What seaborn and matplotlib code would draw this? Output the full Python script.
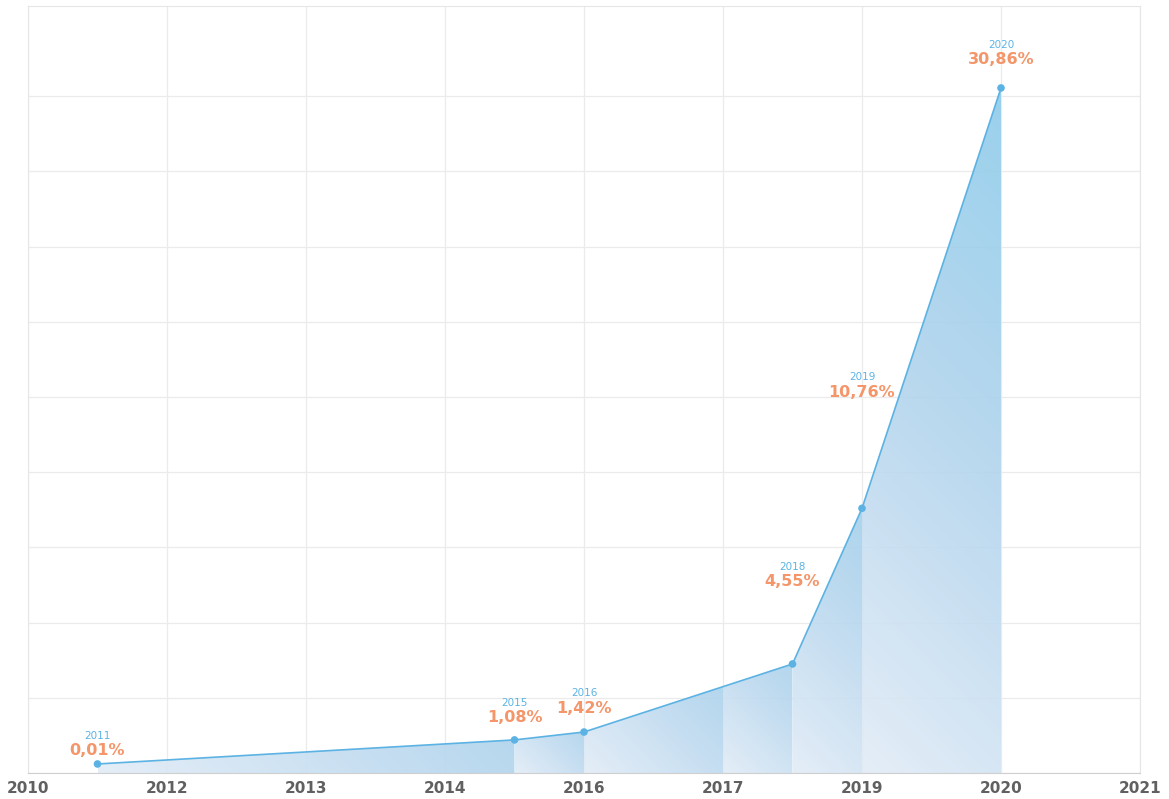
import numpy as np
import matplotlib.pyplot as plt
import seaborn as sns
from matplotlib.colors import LinearSegmentedColormap
from matplotlib.patches import Polygon

# data
years = ['2011', '2015', '2016', '2018', '2019', '2020']
share_labels = ['0,01%', '1,08%', '1,42%', '4,55%', '10,76%', '30,86%']
x_pos = [0.5, 3.5, 4.0, 5.5, 6.0, 7.0]
heights = [0.12, 0.44, 0.545, 1.45, 3.52, 9.11]
tick_labels = ['2010', '2012', '2013', '2014', '2016', '2017', '2019', '2020', '2021']
label_offsets = [13, 22, 24, 82, 116, 28]  # px above the point

sns.set_style('white')
plt.rcParams['font.family'] = ['DejaVu Sans']

fig = plt.figure(figsize=(11.69, 7.99), dpi=100)
ax = fig.add_axes([28 / 1169, 26 / 799, 1112 / 1169, 767 / 799])

# gradient filled segments under the line (gradient runs diagonally in pixel space)
px_x, px_y = 139.0, 75.2
bounds = [0.5, 3.5, 4.0, 5.0, 5.5, 6.0, 7.0]
cmap = LinearSegmentedColormap.from_list('fill', ['#e2ecf6', '#b4d5ee', '#8ecbea'])
max_h = max(heights)
for x0, x1 in zip(bounds[:-1], bounds[1:]):
    y0 = np.interp(x0, x_pos, heights)
    y1 = np.interp(x1, x_pos, heights)
    top = max(y0, y1)
    poly = Polygon([(x0, 0), (x0, y0), (x1, y1), (x1, 0)], closed=True,
                   facecolor='none', edgecolor='none')
    ax.add_patch(poly)
    w, h = (x1 - x0) * px_x, top * px_y
    gx, gy = np.meshgrid(np.linspace(0, w, 300), np.linspace(0, h, 300))
    scale = 0.55 + 0.45 * top / max_h
    grad = (gx + gy) / (w + h) * scale
    im = ax.imshow(grad, extent=[x0, x1, 0, top], origin='lower', cmap=cmap,
                   vmin=0, vmax=1, aspect='auto', zorder=1, interpolation='bilinear',
                   alpha=0.9)
    im.set_clip_path(poly)

sns.lineplot(x=x_pos, y=heights, ax=ax, color='#5cb3e3', linewidth=1.2, zorder=3)
sns.scatterplot(x=x_pos, y=heights, ax=ax, color='#5cb3e3', s=30, edgecolor='none', zorder=4)

for x, y, yr, lab, off in zip(x_pos, heights, years, share_labels, label_offsets):
    ax.annotate(lab, (x, y), xytext=(0, off), textcoords='offset pixels',
                ha='center', va='center', color='#f4956a', fontsize=11.5, fontweight='bold', zorder=5)
    ax.annotate(yr, (x, y), xytext=(0, off + 15), textcoords='offset pixels',
                ha='center', va='center', color='#5cb3e3', fontsize=7.5, zorder=5)

ax.set_xlim(0, 8)
ax.set_ylim(0, 10.2)
ax.set_xticks(range(len(tick_labels)))
ax.set_xticklabels(tick_labels, fontsize=11, fontweight='bold', color='#606060')
ax.set_yticks(np.arange(0, 10, 1))
ax.set_yticklabels([])
ax.tick_params(axis='both', length=0)
ax.tick_params(axis='x', pad=6)
ax.grid(True, color='#ebebeb', linewidth=0.9, zorder=0)
ax.set_axisbelow(True)
for side in ['left', 'top', 'right']:
    ax.spines[side].set_color('#e6e6e6')
ax.spines['bottom'].set_color('#cfcfcf')

fig.savefig('out.png', dpi=100)
